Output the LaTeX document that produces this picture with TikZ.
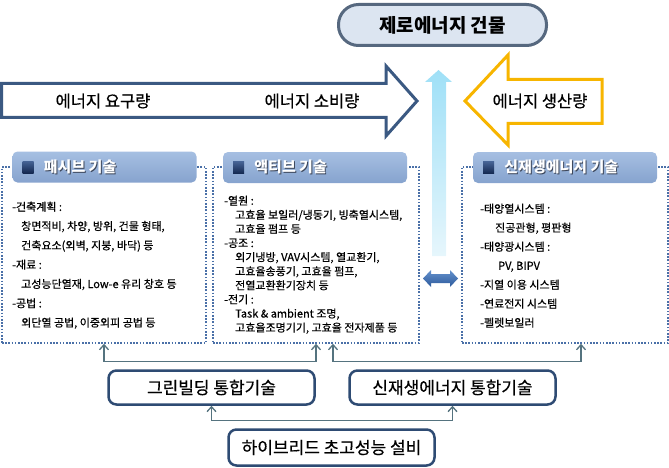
\documentclass[tikz,border=0pt]{standalone}
\usepackage{fontspec}
\setmainfont{Noto Sans CJK KR}[UprightFeatures={FakeBold=0.5}]
\usetikzlibrary{positioning,shapes.arrows,arrows.meta,calc}
\definecolor{flowblue}{RGB}{59,89,130}
\definecolor{gainyellow}{RGB}{247,181,0}
\definecolor{pillfill}{RGB}{220,229,241}
\definecolor{pillline}{RGB}{86,104,127}
\definecolor{dotblue}{RGB}{74,112,168}
\definecolor{tabtop}{RGB}{166,191,226}
\definecolor{tabbot}{RGB}{134,163,206}
\definecolor{tabshade}{RGB}{60,70,90}
\definecolor{icontop}{RGB}{70,100,150}
\definecolor{iconbot}{RGB}{20,40,80}
\definecolor{boxnavy}{RGB}{46,75,115}
\definecolor{linkgray}{RGB}{85,115,127}
\definecolor{skytop}{RGB}{159,224,247}
\definecolor{skybot}{RGB}{230,246,252}
\definecolor{swaptop}{RGB}{100,145,205}
\definecolor{swapbot}{RGB}{45,90,155}
\newcommand\tabtitle[1]{\makebox[0pt][l]{\hspace{1pt}\raisebox{-1pt}{\color{tabshade}#1}}#1}

\begin{document}
\begin{tikzpicture}[x=1pt, y=-1pt, >={Straight Barb[length=5pt,width=9pt]},
		techbox/.style={draw=dotblue, line width=1.6pt, dash pattern=on 1.6pt off 1.6pt, inner sep=0pt},
		tab/.style={rounded corners=5pt, top color=tabtop, bottom color=tabbot, minimum width=184, minimum height=31, inner sep=0pt},
		icon/.style={top color=icontop, bottom color=iconbot, minimum width=11, minimum height=12, inner sep=0pt},
		tabtext/.style={text=white, font=\fontsize{15}{18}\selectfont\bfseries, inner sep=0pt},
		items/.style={anchor=north west, align=left, inner sep=0pt},
		plan/.style={draw=boxnavy, line width=2.5pt, rounded corners=8pt, fill=white, minimum width=206, minimum height=34, font=\fontsize{17}{20}\selectfont},
		link/.style={draw=linkgray, line width=1.3pt, <->}]
	\useasboundingbox (0,0) rectangle (669,468);

	\node[draw=pillline, fill=pillfill, line width=3pt, rounded corners=20pt, minimum width=208, minimum height=41,
		font=\fontsize{19}{22}\selectfont\bfseries] (zeb) at (442.5,25) {제로에너지 건물};

	\draw[flowblue, line width=3pt, fill=white] (1.5,83.5) -- (386,83.5) -- (386,66) -- (417,101) -- (386,136) -- (386,117.5) -- (1.5,117.5) -- cycle;
	\draw[gainyellow, line width=3pt, fill=white] (602,79.5) -- (508,79.5) -- (508,55) -- (465,101) -- (508,145) -- (508,123.5) -- (602,123.5) -- cycle;
	\shade[top color=skytop, bottom color=skybot] (432,82) -- (425,82) -- (438.5,70) -- (452,82) -- (446,82) -- (446,256) -- (432,256) -- cycle;

	\begin{scope}[every node/.style={font=\fontsize{16.5}{19}\selectfont}]
		\node (demand) at (103,101) {에너지 요구량};
		\node (use) at (312,101) {에너지 소비량};
		\node (gain) at (540,101) {에너지 생산량};
	\end{scope}

	\node[techbox, minimum width=204, minimum height=176] (passive) at (104,255) {};
	\node[techbox, minimum width=206, minimum height=176] (active) at (316,255) {};
	\node[techbox, minimum width=206, minimum height=176] (renew) at (565,255) {};

	\node[tab] (passtab) at (104.5,167) {};
	\node[icon, right=10pt of passtab.west] (passicon) {};
	\node[tabtext, right=10pt of passicon] {\tabtitle{패시브 기술}};
	\node[tab] (acttab) at (315,167.5) {};
	\node[icon, right=10pt of acttab.west] (acticon) {};
	\node[tabtext, right=10pt of acticon] {\tabtitle{액티브 기술}};
	\node[tab] (rentab) at (565,167.5) {};
	\node[icon, right=10pt of rentab.west] (renicon) {};
	\node[tabtext, right=10pt of renicon] {\tabtitle{신재생에너지 기술}};

	\node[items, font=\fontsize{11}{19.3}\selectfont] (passtxt) at (12,201.5) {%
		-건축계획 :\\
		\hspace*{9pt}창면적비, 차양, 방위, 건물 형태,\\
		\hspace*{9pt}건축요소(외벽, 지붕, 바닥) 등\\
		-재료 :\\
		\hspace*{9pt}고성능단열재, Low-e 유리 창호 등\\
		-공법 :\\
		\hspace*{9pt}외단열 공법, 이중외피 공법 등};
	\node[items, font=\fontsize{11}{14.1}\selectfont] (acttxt) at (224,195.5) {%
		-열원 :\\
		\hspace*{11pt}고효율 보일러/냉동기, 빙축열시스템,\\
		\hspace*{11pt}고효율 펌프 등\\
		-공조 :\\
		\hspace*{11pt}외기냉방, VAV시스템, 열교환기,\\
		\hspace*{11pt}고효율송풍기, 고효율 펌프,\\
		\hspace*{11pt}전열교환환기장치 등\\
		-전기 :\\
		\hspace*{11pt}Task \& ambient 조명,\\
		\hspace*{11pt}고효율조명기기, 고효율 전자제품 등};
	\node[items, font=\fontsize{11}{19}\selectfont] (rentxt) at (480,203.5) {%
		-태양열시스템 :\\
		\hspace*{15pt}진공관형, 평판형\\
		-태양광시스템 :\\
		\hspace*{18pt}PV, BIPV\\
		-지열 이용 시스템\\
		-연료전지 시스템\\
		-펠렛보일러};

	\shade[top color=swaptop, bottom color=swapbot] (423,278.5) -- (431,270) -- (431,274) -- (450,274) -- (450,270) -- (458,278.5)
		-- (450,287) -- (450,283) -- (431,283) -- (431,287) -- cycle;

	\node[plan] (green) at (211.5,387.5) {그린빌딩 통합기술};
	\node[plan] (renint) at (452.5,387.5) {신재생에너지 통합기술};
	\node[plan, minimum height=36] (hybrid) at (331.5,447.5) {하이브리드 초고성능 설비};

	\draw[link] (passive.south) -- ++(0,18) -| (active.south);
	\draw[link] ([xshift=17pt]active.south) -- ++(0,18) -| ([xshift=16pt]renew.south);
	\draw[link] (green.south) -- ++(0,15) -| (renint.south);
\end{tikzpicture}
\end{document}
